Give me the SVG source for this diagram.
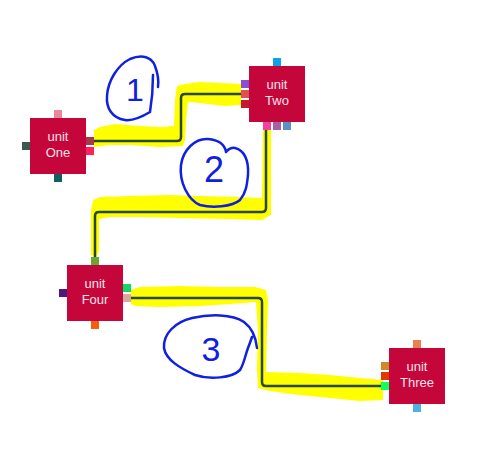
<svg xmlns="http://www.w3.org/2000/svg" width="491" height="452" viewBox="0 0 491 452">
<style>
.box{fill:#c4063a}
.lbl{font-family:"Liberation Sans",sans-serif;font-size:13px;fill:#f8e2ea;text-anchor:middle}
.wire{fill:none;stroke:#284818;stroke-width:2.5}
.hl{fill:#ffff00}
.ink{fill:none;stroke:#1020e0;stroke-width:2.5;stroke-linecap:round;stroke-linejoin:round}
.num{font-family:"Liberation Sans",sans-serif;fill:#1020e0;text-anchor:middle}
</style>
<rect width="491" height="452" fill="#ffffff"/>
<g id="highlights">
<polygon class="hl" points="94,130 100,127 115,124 140,126 160,127 174,126 175,100 177,86 185,84 200,82 220,83 241,84 241,105 225,106 200,103 188,102 186,120 185,140 183,146 160,147 130,145 110,145 94,147"/>
<polygon class="hl" points="91,255 91,210 93,200 100,197 130,196 170,195 200,196 240,197 262,198 263,130 271,130 271,215 262,220 230,219 180,218 140,217 110,217 99,219 99,250 97,256"/>
<polygon class="hl" points="131,290 140,287 180,286 220,287 255,287 266,290 268,300 267,330 266,372 300,373 330,375 360,378 383,380 383,400 360,401 330,398 300,395 270,391 258,388 257,370 258,330 256,302 230,304 200,306 160,307 135,306 131,304"/>
</g>
<g id="connectors">
<path class="wire" d="M94,141 H177 Q181,141 181,137 V98 Q181,94 185,94 H241"/>
<path class="wire" d="M266,130 V208 Q266,212 262,212 H99 Q95,212 95,216 V257"/>
<path class="wire" d="M131,298 H258 Q262,298 262,302 V382 Q262,386 266,386 H381"/>
</g>
<g id="unit-one">
<rect class="box" x="30" y="118" width="56" height="56"/>
<rect x="54" y="110" width="8" height="8" fill="#e88898"/>
<rect x="22" y="142" width="8" height="8" fill="#3a5a50"/>
<rect x="54" y="174" width="8" height="8" fill="#106060"/>
<rect x="86" y="137" width="8" height="8" fill="#a83848"/>
<rect x="86" y="147" width="8" height="8" fill="#ff2060"/>
<text class="lbl" x="58" y="141">unit</text>
<text class="lbl" x="58" y="157">One</text>
</g>
<g id="unit-two">
<rect class="box" x="249" y="66" width="56" height="56"/>
<rect x="273" y="58" width="8" height="8" fill="#10a0e8"/>
<rect x="241" y="80" width="8" height="8" fill="#8850d0"/>
<rect x="241" y="90" width="8" height="8" fill="#e05050"/>
<rect x="241" y="100" width="8" height="8" fill="#c81830"/>
<rect x="263" y="122" width="8" height="8" fill="#f040a0"/>
<rect x="273" y="122" width="8" height="8" fill="#a860a0"/>
<rect x="283" y="122" width="8" height="8" fill="#5890c8"/>
<text class="lbl" x="277" y="89">unit</text>
<text class="lbl" x="277" y="105">Two</text>
</g>
<g id="unit-four">
<rect class="box" x="67" y="265" width="56" height="56"/>
<rect x="91" y="257" width="8" height="8" fill="#68a830"/>
<rect x="59" y="289" width="8" height="8" fill="#501880"/>
<rect x="91" y="321" width="8" height="8" fill="#f06010"/>
<rect x="123" y="284" width="8" height="8" fill="#10d868"/>
<rect x="123" y="294" width="8" height="8" fill="#d8a8a0"/>
<text class="lbl" x="95" y="288">unit</text>
<text class="lbl" x="95" y="304">Four</text>
</g>
<g id="unit-three">
<rect class="box" x="389" y="348" width="56" height="56"/>
<rect x="413" y="340" width="8" height="8" fill="#e88050"/>
<rect x="381" y="362" width="8" height="8" fill="#d08828"/>
<rect x="381" y="372" width="8" height="8" fill="#e03800"/>
<rect x="381" y="382" width="8" height="8" fill="#10ff60"/>
<rect x="413" y="404" width="8" height="8" fill="#50b0e0"/>
<text class="lbl" x="417" y="371">unit</text>
<text class="lbl" x="417" y="387">Three</text>
</g>
<g id="annotations">
<path class="ink" d="M153,75 C153,90 152,100 150,112 C140,118 132,121 125,120 C112,118 106,108 107,96 C108,80 118,65 130,59 C142,54 152,57 155,66 C158,74 159,80 158,87"/>
<text class="num" x="135" y="101" font-size="32">1</text>
<path class="ink" d="M208,139 C195,138 183,150 181,165 C179,182 188,200 200,205 C212,208 232,207 240,200 C246,193 247,185 248,175 C249,160 244,150 235,148 C230,147 228,150 226,152 C225,146 220,140 208,139 Z"/>
<text class="num" x="214" y="182" font-size="36">2</text>
<path class="ink" d="M257,348 C256,338 252,328 244,322 C232,314 210,314 192,318 C175,322 163,334 164,348 C166,360 180,368 195,375 C210,380 232,378 240,370 C244,364 245,356 248,348 C250,343 251,340 252,337"/>
<text class="num" x="211" y="361" font-size="34">3</text>
</g>
</svg>
